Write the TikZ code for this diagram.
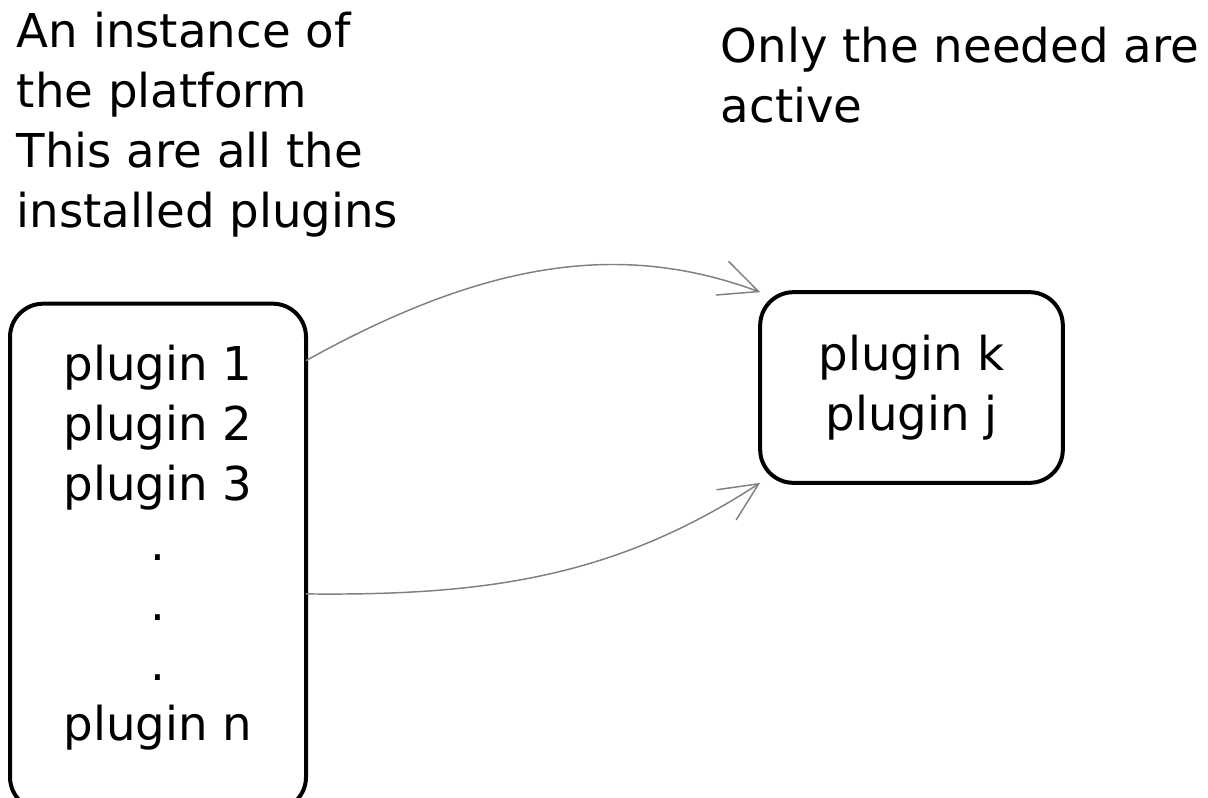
\documentclass[tikz,border=0pt]{standalone}
\usepackage{fontspec}
\setmainfont{DejaVu Sans}
\usetikzlibrary{arrows.meta}
\begin{document}
\begin{tikzpicture}[x=0.75pt,y=0.75pt,
  txt/.style={font=\fontsize{35}{45}\selectfont},
  box/.style={txt, draw=black, line width=3pt, rounded corners=25pt,
    inner sep=0pt, outer sep=0pt, align=center},
  note/.style={txt, anchor=north west, inner sep=0pt, align=left},
  link/.style={draw=black!50, line width=1.1pt,
    -{Straight Barb[length=29pt,width=27pt]}}]
\useasboundingbox (0,-797) rectangle (1208,0);

% captions
\node[note] (inst) at (16.5,-12)
  {An instance of\\the platform\\This are all the\\installed plugins};
\node[note] (act) at (720.5,-27) {Only the needed are\\active};

% all installed plugins
\node[box, minimum width=222pt, minimum height=380pt, text depth=21pt]
  (all) at (158,-557)
  {plugin 1\\plugin 2\\plugin 3\\.\\.\\.\\plugin n};

% active plugins
\node[box, minimum width=227pt, minimum height=143pt] (active) at (911.5,-387.5)
  {plugin k\\plugin j};

% selection arrows
\draw[link] (all.53.3) .. controls (487,-260) and (622,-241) .. (active.north west);
\draw[link] (all.-14.8) .. controls (490,-596) and (617,-576) .. (active.south west);
\end{tikzpicture}
\end{document}
